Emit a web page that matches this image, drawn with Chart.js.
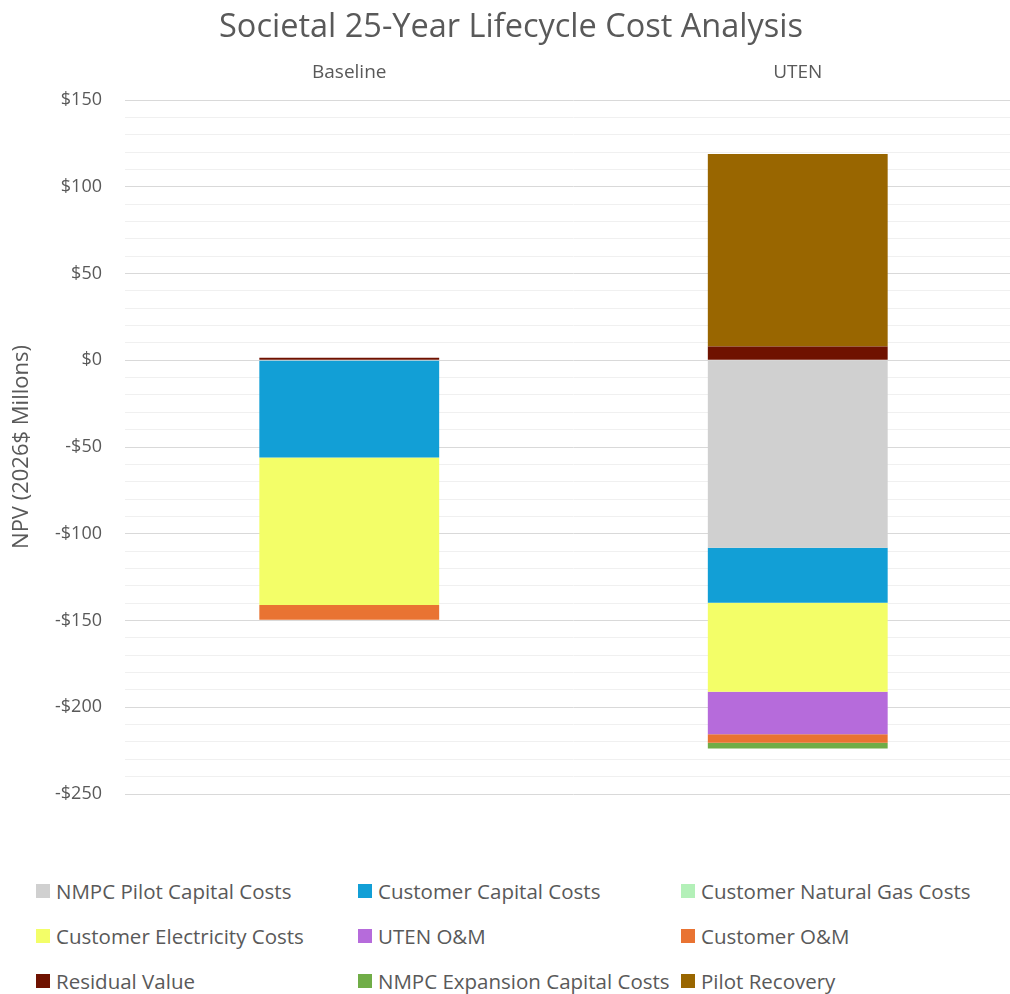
<!DOCTYPE html>
<html>
<head>
<meta charset="utf-8">
<script src="https://cdn.jsdelivr.net/npm/chart.js@4.4.1/dist/chart.umd.min.js"></script>
<style>
  html, body { margin: 0; padding: 0; background: #ffffff; overflow: hidden; }
  body { width: 1010px; height: 994px; position: relative; }
  #wrap { position: absolute; left: 0; top: 0; width: 1022px; height: 830px; }
  .lg { position: absolute; display: flex; align-items: center; font-family: "Open Sans", sans-serif; font-size: 20.5px; color: #595959; white-space: nowrap; }
  .lg .sw { width: 14px; height: 14px; margin-right: 6px; flex: none; }
</style>
</head>
<body>
<div id="wrap"><canvas id="c" width="1022" height="830"></canvas></div>
<div id="legend"></div>
<script>
const categories = ["Baseline", "UTEN"];
const seriesNames = [
  "NMPC Pilot Capital Costs", "Customer Capital Costs", "Customer Natural Gas Costs",
  "Customer Electricity Costs", "UTEN O&M", "Customer O&M",
  "Residual Value", "NMPC Expansion Capital Costs", "Pilot Recovery"
];
const nmpcPilotCapital   = [0, -108];
const customerCapital    = [-56, -31.7];
const customerNaturalGas = [0, 0];
const customerElectricity= [-85, -51.4];
const utenOM             = [0, -24.4];
const customerOM         = [-8.5, -5];
const residualValue      = [1.5, 7.9];
const nmpcExpansion      = [0, -3.3];
const pilotRecovery      = [0, 111];
const seriesColors = ["#d0d0d0", "#129fd6", "#b3f0b8", "#f3fe68", "#b66bdb", "#e97332", "#6f1200", "#70ad47", "#996600"];
const yTickLabelsAt = [150, 100, 50, 0, -50, -100, -150, -200, -250];

const seriesValues = [nmpcPilotCapital, customerCapital, customerNaturalGas, customerElectricity,
  utenOM, customerOM, residualValue, nmpcExpansion, pilotRecovery];

const FONT = '"Open Sans", sans-serif';
const GREY = '#595959';

function fmt(v) { return v < 0 ? '-$' + Math.abs(v) : '$' + v; }

new Chart(document.getElementById('c'), {
  type: 'bar',
  data: {
    labels: categories,
    datasets: seriesNames.map((n, i) => ({
      label: n,
      data: seriesValues[i],
      backgroundColor: seriesColors[i],
      borderWidth: 0,
      barPercentage: 1.0,
      categoryPercentage: 0.401
    }))
  },
  options: {
    responsive: false,
    animation: false,
    layout: { padding: { left: 0, right: 0, top: 0, bottom: 36 } },
    plugins: {
      legend: { display: false },
      tooltip: { enabled: false },
      title: {
        display: true,
        text: 'Societal 25-Year Lifecycle Cost Analysis',
        color: GREY,
        font: { family: FONT, size: 32.5, weight: 'normal' },
        padding: { top: 8, bottom: 0 }
      }
    },
    scales: {
      x: {
        position: 'top',
        stacked: true,
        grid: { display: false, drawTicks: false },
        border: { display: false },
        ticks: { color: GREY, font: { family: FONT, size: 19 }, padding: 16 },
        afterFit: (s) => { s.height = 53; }
      },
      y: {
        stacked: true,
        min: -250,
        max: 150,
        border: { display: false },
        grid: {
          drawTicks: false,
          color: (ctx) => (ctx.tick && yTickLabelsAt.includes(ctx.tick.value)) ? '#d9d9d9' : '#f0f0f0',
          lineWidth: 1
        },
        ticks: {
          stepSize: 10,
          autoSkip: false,
          color: GREY,
          font: { family: FONT, size: 18 },
          padding: 23,
          callback: (v) => yTickLabelsAt.includes(v) ? fmt(v) : ''
        },
        title: {
          display: true,
          text: 'NPV (2026$ Millons)',
          color: GREY,
          font: { family: FONT, size: 22 },
          padding: { top: 9, bottom: 0 }
        },
        afterFit: (s) => { s.width = 125; }
      }
    }
  }
});

const legend = document.getElementById('legend');
const colX = [36, 358, 681];
const rowY = [891, 936, 981];
seriesNames.forEach((n, i) => {
  const d = document.createElement('div');
  d.className = 'lg';
  d.style.left = colX[i % 3] + 'px';
  d.style.top = (rowY[Math.floor(i / 3)] - 14) + 'px';
  d.style.height = '28px';
  const sw = document.createElement('span');
  sw.className = 'sw';
  sw.style.background = seriesColors[i];
  const t = document.createElement('span');
  t.textContent = n;
  d.appendChild(sw);
  d.appendChild(t);
  legend.appendChild(d);
});
</script>
</body>
</html>
